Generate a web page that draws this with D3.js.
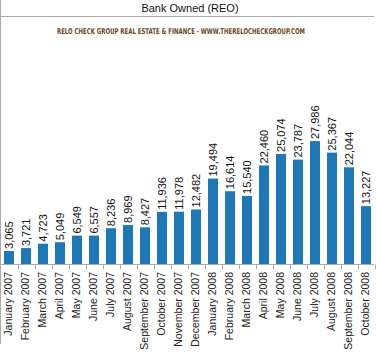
<!DOCTYPE html>
<html>
<head>
<meta charset="utf-8">
<script src="https://cdn.jsdelivr.net/npm/d3@7"></script>
<style>
  html, body { margin: 0; padding: 0; background: #fff; }
  svg { display: block; }
</style>
</head>
<body>
<svg id="chart" width="376" height="358"></svg>
<script>
const titleText = "Bank Owned (REO)";
const subtitleText = "RELO CHECK GROUP REAL ESTATE & FINANCE - WWW.THERELOCHECKGROUP.COM";
const months = ["January 2007","February 2007","March 2007","April 2007","May 2007","June 2007","July 2007","August 2007","September 2007","October 2007","November 2007","December 2007","January 2008","February 2008","March 2008","April 2008","May 2008","June 2008","July 2008","August 2008","September 2008","October 2008"];
const reoCounts = [3065,3721,4723,5049,6549,6557,8236,8969,8427,11936,11978,12482,19494,16614,15540,22460,25074,23787,27986,25367,22044,13227];
const yDomain = [0, 30000];

const svg = d3.select("#chart");
const fontMain = "'Liberation Sans', Arial, sans-serif";

// frame lines
svg.append("line").attr("x1",0.5).attr("x2",0.5).attr("y1",0).attr("y2",344)
  .attr("stroke","#aaa").attr("stroke-width",1);
svg.append("line").attr("x1",0).attr("x2",374).attr("y1",16.5).attr("y2",16.5)
  .attr("stroke","#aaa").attr("stroke-width",1);

// title
svg.append("text").attr("x",190).attr("y",12).attr("text-anchor","middle")
  .attr("font-family",fontMain).attr("font-size",11).attr("fill","#111").text(titleText);

// subtitle (condensed horizontally to the reference width)
const subG = svg.append("g");
const sub = subG.append("text").attr("x",0).attr("y",0)
  .attr("font-family","'Liberation Sans Narrow','DejaVu Sans Condensed','Liberation Sans',sans-serif")
  .attr("font-weight","bold")
  .attr("font-size",8).attr("fill","#6b4423")
  .text(subtitleText);
const subW = sub.node().getComputedTextLength();
subG.attr("transform", `translate(57,33.5) scale(${248 / subW},1)`);

const x = d3.scaleBand().domain(months).range([0.5, 374.5]).paddingInner(0.41).paddingOuter(0.205);
const y = d3.scaleLinear().domain(yDomain).range([264.5, 132.2]);

const half = x.step() * x.paddingInner() / 2;

// bars
svg.append("g").selectAll("rect").data(months).join("rect")
  .attr("x", d => x(d))
  .attr("width", x.bandwidth())
  .attr("y", (d,i) => y(reoCounts[i]))
  .attr("height", (d,i) => y(0) - y(reoCounts[i]))
  .attr("fill", "#1f77b4");

// baseline
svg.append("line").attr("x1",0).attr("x2",374).attr("y1",264.5).attr("y2",264.5)
  .attr("stroke","#aaa").attr("stroke-width",1);

// ticks at band boundaries
const tickPos = months.map(d => x(d) - half).concat([x(months[months.length-1]) + x.bandwidth() + half]);
svg.append("g").selectAll("line").data(tickPos.slice(1)).join("line")
  .attr("x1", d => Math.round(d) + 0.5).attr("x2", d => Math.round(d) + 0.5)
  .attr("y1", 264.5).attr("y2", 269)
  .attr("stroke","#aaa").attr("stroke-width",1);

// value labels
const fmt = d3.format(",");
svg.append("g").selectAll("text").data(months).join("text")
  .attr("transform", (d,i) => `translate(${x(d) + x.bandwidth()/2},${y(reoCounts[i]) - 2}) rotate(-90)`)
  .attr("dy","0.35em")
  .attr("text-anchor","start")
  .attr("font-family",fontMain).attr("font-size",11).attr("fill","#111")
  .text((d,i) => fmt(reoCounts[i]));

// x axis labels
svg.append("g").selectAll("text").data(months).join("text")
  .attr("transform", d => `translate(${x(d) + x.bandwidth()/2 - 1},272) rotate(-90)`)
  .attr("dy","0.35em")
  .attr("text-anchor","end")
  .attr("font-family",fontMain).attr("font-size",10.5).attr("fill","#222")
  .text(d => d);
</script>
</body>
</html>
